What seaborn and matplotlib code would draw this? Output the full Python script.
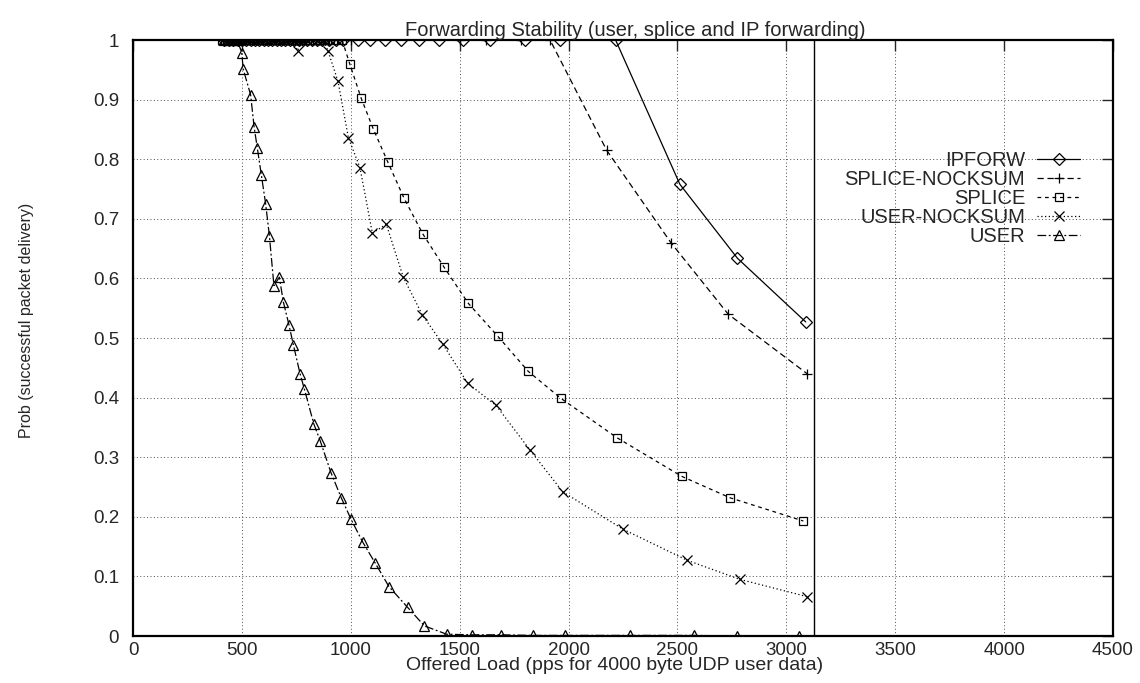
import matplotlib
matplotlib.use("Agg")
import matplotlib.pyplot as plt
import seaborn as sns
import pandas as pd

# ---------------- data ----------------
ipforw_x = [420, 440, 460, 480, 500, 520, 540, 560, 580, 600, 620, 640, 660, 680, 700,
            720, 740, 760, 780, 800, 820, 845, 870, 900, 930, 965, 1031, 1088, 1157,
            1229, 1312, 1405, 1517, 1640, 1800, 1960, 2216, 2511, 2775, 3089]
ipforw_y = [1.0] * 37 + [0.758, 0.634, 0.527]

splice_nock_x = [415, 435, 455, 475, 495, 515, 535, 555, 575, 595, 615, 635, 655, 675,
                 695, 715, 735, 755, 775, 795, 815, 840, 865, 895, 925, 960, 1000,
                 1500, 1620, 1780, 1915, 2175, 2470, 2733, 3096]
splice_nock_y = [1.0] * 31 + [0.815, 0.660, 0.540, 0.440]

splice_x = [410, 430, 450, 470, 490, 510, 530, 550, 570, 590, 610, 630, 650, 670, 690,
            710, 730, 750, 770, 790, 810, 835, 860, 890, 920, 960,
            996, 1047, 1103, 1169, 1244, 1330, 1428, 1540, 1675, 1815, 1964, 2221,
            2519, 2741, 3078]
splice_y = [1.0] * 26 + [0.959, 0.903, 0.851, 0.796, 0.735, 0.675, 0.619, 0.558, 0.503,
                         0.444, 0.399, 0.333, 0.268, 0.232, 0.193]

user_nock_x = [412, 432, 452, 472, 492, 512, 532, 552, 572, 592, 612, 632, 652, 672,
               692, 712, 732, 756, 775, 800, 825, 850, 875, 895, 941, 989, 1042, 1099,
               1163, 1241, 1328, 1422, 1537, 1667, 1823, 1973, 2251, 2545, 2787, 3096]
user_nock_y = [1.0] * 17 + [0.982] + [1.0] * 5 + [0.982, 0.931, 0.836, 0.786, 0.676,
                                                   0.691, 0.602, 0.539, 0.490, 0.424,
                                                   0.387, 0.312, 0.242, 0.179, 0.127,
                                                   0.095, 0.066]

user_x = [418, 438, 458, 478, 499, 506, 540, 556, 571, 589, 609, 626, 647, 672, 690, 716,
          736, 767, 787, 830, 860, 909, 956, 1001, 1054, 1111, 1175, 1261, 1338, 1440,
          1555, 1690, 1835, 1983, 2282, 2576, 2775, 3060]
user_y = [1.0, 1.0, 1.0, 1.0, 0.979, 0.951, 0.908, 0.854, 0.818, 0.774, 0.725, 0.672,
          0.588, 0.602, 0.561, 0.522, 0.489, 0.440, 0.414, 0.356, 0.327, 0.274, 0.232,
          0.196, 0.158, 0.123, 0.083, 0.048, 0.017, 0.003, 0.002, 0.002, 0.001, 0.001,
          0.001, 0.001, 0.0, 0.0]

capacity_x = 3125

x_ticks = [0, 500, 1000, 1500, 2000, 2500, 3000, 3500, 4000, 4500]
y_ticks = [0, 0.1, 0.2, 0.3, 0.4, 0.5, 0.6, 0.7, 0.8, 0.9, 1]
y_tick_labels = ["0", "0.1", "0.2", "0.3", "0.4", "0.5", "0.6", "0.7", "0.8", "0.9", "1"]

series = [
    ("IPFORW", ipforw_x, ipforw_y, "D", "-", 6.5),
    ("SPLICE-NOCKSUM", splice_nock_x, splice_nock_y, "+", (0, (5, 3)), 7.5),
    ("SPLICE", splice_x, splice_y, "s", (0, (3, 3)), 6.3),
    ("USER-NOCKSUM", user_nock_x, user_nock_y, "x", (0, (1, 2)), 7.5),
    ("USER", user_x, user_y, "^", (0, (7, 2, 1.5, 2)), 7),
]

# ---------------- plot ----------------
sns.set_style("white")
plt.rcParams["font.family"] = ["Liberation Sans", "DejaVu Sans"]

fig = plt.figure(figsize=(11.4, 6.83), dpi=100)
ax = fig.add_axes([0.1167, 0.0688, 0.8596, 0.8726])

for name, xs, ys, mk, ls, ms in series:
    df = pd.DataFrame({"x": xs, "y": ys})
    sns.lineplot(data=df, x="x", y="y", ax=ax, sort=False, estimator=None,
                 color="black", linewidth=0.9, linestyle=ls, marker=mk,
                 markersize=ms, markerfacecolor="none", markeredgecolor="black",
                 markeredgewidth=0.9, label=name)

ax.axvline(capacity_x, color="black", linewidth=1.0)

ax.set_xlim(0, 4500)
ax.set_ylim(0, 1)
ax.set_xticks(x_ticks)
ax.set_xticklabels([str(t) for t in x_ticks])
ax.set_yticks(y_ticks)
ax.set_yticklabels(y_tick_labels)
ax.grid(True, color="0.3", linestyle=(0, (1, 2.5)), linewidth=0.7)
ax.tick_params(axis="both", direction="in", length=8, width=1.0, labelsize=13.5,
               top=True, right=True)
ax.tick_params(axis="x", pad=4)
ax.tick_params(axis="y", pad=10)
for sp in ax.spines.values():
    sp.set_color("black")
    sp.set_linewidth(1.6)

ax.set_xlabel("Offered Load (pps for 4000 byte UDP user data)", fontsize=14)
ax.xaxis.set_label_coords(0.491, -0.036)
ax.set_ylabel("Prob (successful packet delivery)", fontsize=11.5)
ax.yaxis.set_label_coords(-0.101, 0.53)
ax.set_title("Forwarding Stability (user, splice and IP forwarding)", fontsize=14.5,
             x=0.512, pad=3)

leg = ax.legend(loc="upper right", bbox_to_anchor=(0.975, 0.828), frameon=False,
                markerfirst=False, fontsize=14.5, handlelength=2.15, handletextpad=0.6,
                labelspacing=0.0, borderaxespad=0)
for col in leg._legend_handle_box.get_children():
    col.align = "right"

fig.savefig("out.png", dpi=100)
